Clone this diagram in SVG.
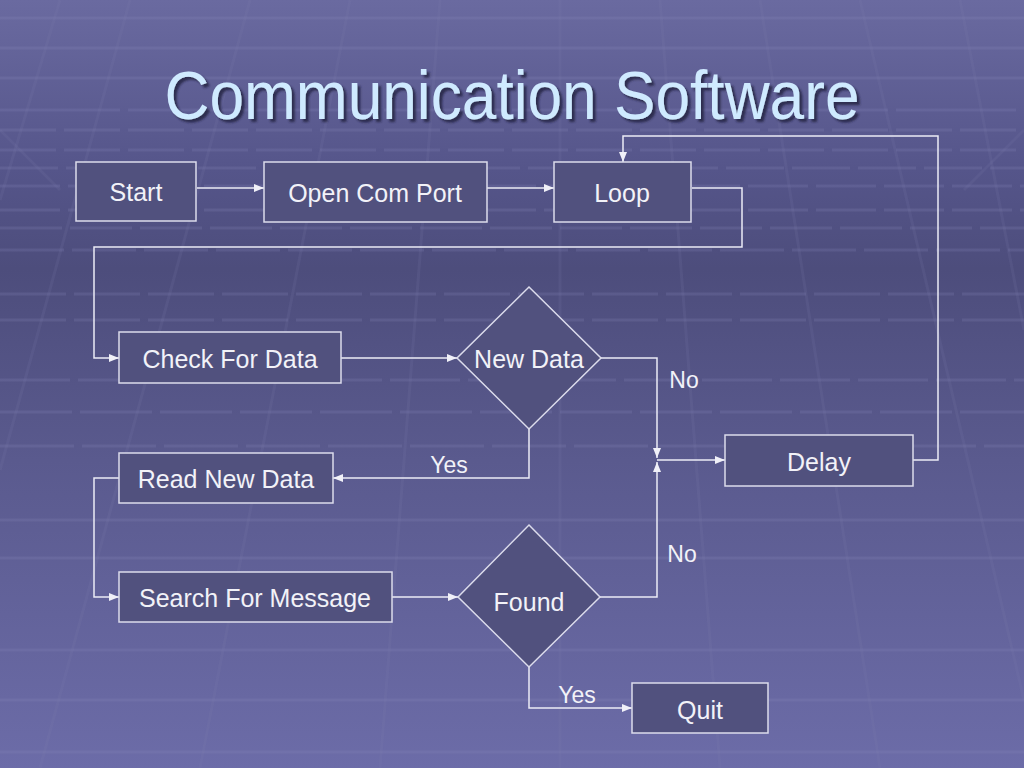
<svg xmlns="http://www.w3.org/2000/svg" width="1024" height="768" viewBox="0 0 1024 768">
<defs>
<linearGradient id="bg" x1="0" y1="0" x2="0" y2="1">
<stop offset="0" stop-color="#6a6aa0"/>
<stop offset="0.22" stop-color="#55558a"/>
<stop offset="0.35" stop-color="#4d4d7c"/>
<stop offset="0.6" stop-color="#5a5a8e"/>
<stop offset="1" stop-color="#6c6ca8"/>
</linearGradient>
<marker id="ah" viewBox="0 0 10 10" refX="10" refY="5" markerWidth="10" markerHeight="10" markerUnits="userSpaceOnUse" orient="auto">
<path d="M0,1 L10,5 L0,9 z" fill="#f0f0f8"/>
</marker>
<filter id="sh" x="-5%" y="-20%" width="110%" height="140%">
<feDropShadow dx="3" dy="3" stdDeviation="1" flood-color="#202040" flood-opacity="0.8"/>
</filter>
</defs>
<style>
.node rect, .node polygon { fill:#51517e; stroke:#dcdcec; stroke-width:1.5; }
.node text { font-family:"Liberation Sans", Arial, sans-serif; font-size:25px; fill:#f2f2f8; text-anchor:middle; dominant-baseline:central; }
.conn path { fill:none; stroke:#ececf6; stroke-width:1.5; }
.lbl { font-family:"Liberation Sans", Arial, sans-serif; font-size:23px; fill:#f2f2f8; text-anchor:middle; dominant-baseline:central; }
.grid line { stroke:#8888bb; stroke-opacity:0.22; stroke-width:3; }
.gridv line { stroke:#8080b0; stroke-opacity:0.15; stroke-width:3; }
</style>
<rect width="1024" height="768" fill="url(#bg)"/>
<g class="grid">
<line x1="0" y1="18" x2="1024" y2="18"/>
<line x1="0" y1="48" x2="1024" y2="48"/>
<line x1="0" y1="78" x2="1024" y2="78"/>
<line x1="0" y1="110" x2="1024" y2="110" stroke-dasharray="120 8"/>
<line x1="0" y1="130" x2="1024" y2="130" stroke-dasharray="56 8"/>
<line x1="0" y1="150" x2="1024" y2="150" stroke-dasharray="56 8"/>
<line x1="0" y1="168" x2="1024" y2="168" stroke-dasharray="58 8"/>
<line x1="0" y1="186" x2="1024" y2="186" stroke-dasharray="60 8"/>
<line x1="0" y1="210" x2="1024" y2="210" stroke-dasharray="60 8"/>
<line x1="0" y1="228" x2="1024" y2="228" stroke-dasharray="62 8"/>
<line x1="0" y1="250" x2="1024" y2="250" stroke-dasharray="64 8"/>
<line x1="0" y1="294" x2="1024" y2="294" stroke-dasharray="66 8"/>
<line x1="0" y1="320" x2="1024" y2="320" stroke-dasharray="66 8"/>
<line x1="0" y1="380" x2="1024" y2="380" stroke-dasharray="70 8"/>
<line x1="0" y1="412" x2="1024" y2="412" stroke-dasharray="72 8"/>
<line x1="0" y1="446" x2="1024" y2="446" stroke-dasharray="74 8"/>
<line x1="0" y1="520" x2="1024" y2="520"/>
<line x1="0" y1="558" x2="1024" y2="558"/>
<line x1="0" y1="650" x2="1024" y2="650"/>
<line x1="0" y1="700" x2="1024" y2="700"/>
<line x1="0" y1="752" x2="1024" y2="752"/>
</g>
<g class="gridv">
<line x1="0" y1="200" x2="60" y2="0"/>
<line x1="0" y1="470" x2="130" y2="0"/>
<line x1="40" y1="768" x2="250" y2="0"/>
<line x1="200" y1="768" x2="350" y2="0"/>
<line x1="380" y1="768" x2="440" y2="0"/>
<line x1="560" y1="768" x2="560" y2="0"/>
<line x1="720" y1="768" x2="660" y2="0"/>
<line x1="880" y1="768" x2="760" y2="0"/>
<line x1="1024" y1="700" x2="860" y2="0"/>
<line x1="1024" y1="330" x2="960" y2="0"/>
<line x1="0" y1="130" x2="60" y2="190"/>
<line x1="1024" y1="130" x2="964" y2="190"/>
</g>

<text x="512" y="119" font-family="'Liberation Sans Narrow', 'Liberation Sans', Arial, sans-serif" font-size="68" fill="#cfeaff" text-anchor="middle" textLength="695" lengthAdjust="spacingAndGlyphs" filter="url(#sh)">Communication Software</text>

<g class="conn">
<path d="M197,188 H264" marker-end="url(#ah)"/>
<path d="M487,188 H554" marker-end="url(#ah)"/>
<path d="M692,188 H742 V247 H94 V358 H119" marker-end="url(#ah)"/>
<path d="M341,358 H457" marker-end="url(#ah)"/>
<path d="M601,358 H657 V458" marker-end="url(#ah)"/>
<path d="M529,429 V478 H333" marker-end="url(#ah)"/>
<path d="M119,478 H94 V597 H119" marker-end="url(#ah)"/>
<path d="M392,597 H458" marker-end="url(#ah)"/>
<path d="M600,597 H657 V462" marker-end="url(#ah)"/>
<path d="M657,460 H725" marker-end="url(#ah)"/>
<path d="M913,460 H938 V136 H623 V162" marker-end="url(#ah)"/>
<path d="M529,667 V708 H632" marker-end="url(#ah)"/>
</g>

<g class="labels">
<text class="lbl" x="684" y="380">No</text>
<text class="lbl" x="449" y="465">Yes</text>
<text class="lbl" x="682" y="554">No</text>
<text class="lbl" x="577" y="695">Yes</text>
</g>

<g id="start" class="node"><rect x="76" y="162" width="120" height="59"/><text x="136" y="192">Start</text></g>
<g id="open-com-port" class="node"><rect x="264" y="162" width="223" height="60"/><text x="375" y="193">Open Com Port</text></g>
<g id="loop" class="node"><rect x="554" y="162" width="137" height="60"/><text x="622" y="193">Loop</text></g>
<g id="check-for-data" class="node"><rect x="119" y="332" width="222" height="51"/><text x="230" y="359">Check For Data</text></g>
<g id="new-data" class="node"><polygon points="529,287 601,358 529,429 457,358"/><text x="529" y="359">New Data</text></g>
<g id="read-new-data" class="node"><rect x="119" y="453" width="214" height="50"/><text x="226" y="479">Read New Data</text></g>
<g id="delay" class="node"><rect x="725" y="435" width="188" height="51"/><text x="819" y="462">Delay</text></g>
<g id="search-for-message" class="node"><rect x="119" y="572" width="273" height="50"/><text x="255" y="598">Search For Message</text></g>
<g id="found" class="node"><polygon points="529,525 600,597 529,667 458,597"/><text x="529" y="602">Found</text></g>
<g id="quit" class="node"><rect x="632" y="683" width="136" height="50"/><text x="700" y="710">Quit</text></g>
</svg>
